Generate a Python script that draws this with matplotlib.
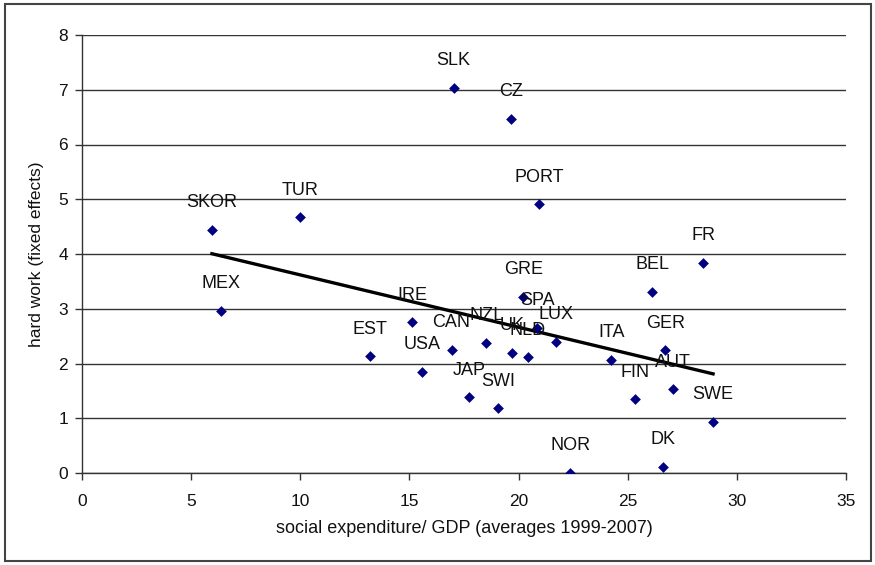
import matplotlib
matplotlib.use("Agg")
import matplotlib.pyplot as plt
from matplotlib.patches import Rectangle
import numpy as np

plt.rcParams['font.family'] = ['Liberation Sans', 'DejaVu Sans']

countries = ["SLK", "CZ", "PORT", "TUR", "SKOR", "FR", "BEL", "GRE", "MEX", "IRE",
             "EST", "CAN", "NZL", "UK", "NLD", "SPA", "LUX", "ITA", "GER", "USA",
             "JAP", "SWI", "FIN", "AUT", "SWE", "NOR", "DK"]
social_exp = [17.02, 19.67, 20.95, 9.97, 5.95, 28.46, 26.12, 20.22, 6.36, 15.14,
              13.18, 16.93, 18.53, 19.72, 20.41, 20.86, 21.73, 24.25, 26.72, 15.56,
              17.75, 19.08, 25.35, 27.08, 28.91, 22.37, 26.63]
hard_work = [7.04, 6.47, 4.91, 4.67, 4.44, 3.84, 3.31, 3.22, 2.96, 2.75,
             2.13, 2.25, 2.38, 2.20, 2.11, 2.65, 2.40, 2.07, 2.24, 1.85,
             1.38, 1.18, 1.35, 1.53, 0.93, 0.00, 0.11]

x_ticks = [0, 5, 10, 15, 20, 25, 30, 35]
y_ticks = [0, 1, 2, 3, 4, 5, 6, 7, 8]

W, H = 875, 565
fig = plt.figure(figsize=(W / 100, H / 100), dpi=100)
ax = fig.add_axes([82 / W, 1 - 473 / H, (846 - 82) / W, (473 - 35) / H])

x = np.array(social_exp)
y = np.array(hard_work)

# trend line (OLS)
slope, intercept = np.polyfit(x, y, 1)
xl = np.array([x.min(), x.max()])
ax.plot(xl, slope * xl + intercept, color='black', lw=2.4, zorder=3)

ax.scatter(x, y, marker='D', s=30, color='#000080', zorder=4, linewidths=0)

for name, xi, yi in zip(countries, x, y):
    ax.annotate(name, (xi, yi), xytext=(0, 19.5), textcoords='offset points',
                ha='center', va='center', fontsize=13, color='#111111', zorder=5)

ax.set_xlim(0, 35)
ax.set_ylim(0, 8)
ax.set_xticks(x_ticks)
ax.set_yticks(y_ticks)
ax.yaxis.grid(True, color='#333333', lw=1.0)
ax.set_axisbelow(True)
for s in ['top', 'right']:
    ax.spines[s].set_visible(False)
for s in ['left', 'bottom']:
    ax.spines[s].set_color('#333333')
    ax.spines[s].set_linewidth(1.0)
ax.tick_params(axis='both', direction='out', length=5, width=1, color='#333333',
               labelsize=12.5, labelcolor='#111111')
ax.tick_params(axis='y', pad=5)
ax.tick_params(axis='x', pad=10)
ax.set_xlabel('social expenditure/ GDP (averages 1999-2007)', fontsize=13, color='#111111', labelpad=8)
ax.set_ylabel('hard work (fixed effects)', fontsize=12.5, color='#111111', labelpad=10)

fig.patches.append(Rectangle((5 / W, 4 / H), (871 - 5) / W, (561 - 4) / H,
                             transform=fig.transFigure, fill=False,
                             edgecolor='#444444', lw=1.5))

fig.savefig('out.png', dpi=100)
